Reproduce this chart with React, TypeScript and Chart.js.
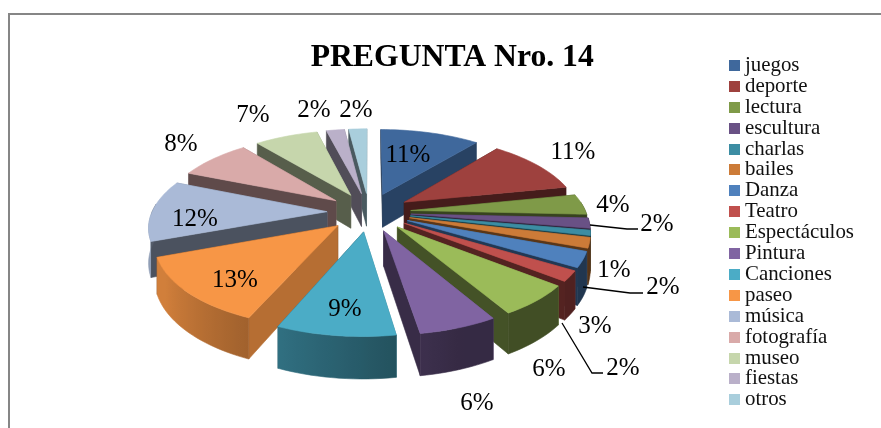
import React, { useEffect, useRef } from "react";
import { Chart, registerables } from "chart.js";

Chart.register(...registerables);

const categories = ["juegos","deporte","lectura","escultura","charlas","bailes","Danza","Teatro","Espectáculos","Pintura","Canciones","paseo","música","fotografía","museo","fiestas","otros"];
const percentages = [11,11,4,2,1,2,3,2,6,6,9,13,12,8,7,2,2];
const sliceColors = ["#3F689C","#9E413E","#7F9A48","#695185","#3C8DA3","#CC7B38","#4F81BD","#C0504D","#9BBB59","#8064A2","#4BACC6","#F79646","#AABAD7","#D9AAA9","#C6D6AC","#BAB0C9","#A9CEDC"];
const labelPlaces: [number, number][] = [[408,155],[573,152],[613,205],[657,224],[614,270],[663,287],[595,326],[623,368],[549,369],[477,403],[345,309],[235,280],[195,219],[181,144],[253,115],[314,110],[356,110]];
const leaderPaths: [number, number][][] = [
  [[590,225],[627,229],[638,229]],
  [[583,287],[630,293],[643,293]],
  [[562,323],[592,373],[603,373]],
];

const FONT = '"Liberation Serif", "Times New Roman", serif';
const ORIGIN_X = 369, ORIGIN_Y = 212;
const SQUASH = 0.46, PERSPECTIVE = 0.00092, DEPTH = 34;
const RADIUS = 175, EXPLODE = 42;

function project(X: number, Y: number, h = 0): [number, number] {
  const k = 1 / (1 - PERSPECTIVE * Y);
  return [ORIGIN_X + X * k, ORIGIN_Y + SQUASH * Y * k + h * k];
}
function shade(hex: string, f: number) {
  const n = parseInt(hex.slice(1), 16);
  return `rgb(${((n >> 16) & 255) * f | 0},${((n >> 8) & 255) * f | 0},${(n & 255) * f | 0})`;
}
function deg(a: number) { // clockwise degrees from north
  return (((a + Math.PI / 2) * 180) / Math.PI + 720) % 360;
}
function poly(ctx: CanvasRenderingContext2D, pts: [number, number][], color: any) {
  ctx.beginPath();
  pts.forEach((p, i) => (i ? ctx.lineTo(p[0], p[1]) : ctx.moveTo(p[0], p[1])));
  ctx.closePath();
  ctx.fillStyle = color;
  ctx.strokeStyle = color;
  ctx.lineWidth = 0.6;
  ctx.fill();
  ctx.stroke();
}
function radialShade(n: number) {
  const m = ((n % 360) + 360) % 360;
  if (m >= 160) return 0.44;
  return Math.min(0.74, 0.44 + ((160 - m) / 47) * 0.3);
}
function outerShade(n: number) {
  const m = ((n % 360) + 360) % 360;
  if (m <= 160) return 0.42;
  if (m > 250) return 0.5;
  return Math.min(0.85, 0.42 + ((m - 160) / 80) * 0.43);
}
function swatch(color: string) {
  const c = document.createElement("canvas");
  c.width = 11;
  c.height = 11;
  const g = c.getContext("2d")!;
  g.fillStyle = color;
  g.fillRect(0, 0, 11, 11);
  return c;
}

const tiltedPie = {
  id: "tiltedPie",
  beforeDraw(chart: any) {
    const { ctx, width, height } = chart;
    // the swatches sit just left of the legend box, so it must not clip them
    chart.legend.draw = function () {
      this._draw();
    };
    ctx.save();
    ctx.fillStyle = "#868686";
    ctx.fillRect(8, 13, width - 8, 2);
    ctx.fillRect(8, 13, 2, height - 13);
    ctx.restore();
  },
  beforeDatasetDraw(chart: any) {
    const { ctx } = chart;
    const arcs = chart.getDatasetMeta(0).data.map((arc: any, index: number) => {
      const mid = (arc.startAngle + arc.endAngle) / 2;
      const e = (arc.options.offset || 0) / 4;
      return { arc, index, mid, ax: Math.cos(mid) * e, ay: Math.sin(mid) * e };
    });
    arcs.sort((a: any, b: any) => a.ay + Math.sin(a.mid) * 60 - (b.ay + Math.sin(b.mid) * 60));
    ctx.save();
    for (const s of arcs) {
      const { arc, ax, ay } = s;
      const color = arc.options.backgroundColor;
      const r = arc.outerRadius;
      const steps = Math.max(4, Math.ceil((arc.endAngle - arc.startAngle) * 30));
      const rim: [number, number][] = [];
      const angles: number[] = [];
      for (let i = 0; i <= steps; i++) {
        const a = arc.startAngle + ((arc.endAngle - arc.startAngle) * i) / steps;
        angles.push(a);
        rim.push([ax + Math.cos(a) * r, ay + Math.sin(a) * r]);
      }
      const wall = (p: [number, number], q: [number, number]): [number, number][] => [
        project(p[0], p[1]), project(q[0], q[1]), project(q[0], q[1], DEPTH), project(p[0], p[1], DEPTH),
      ];
      const apex: [number, number] = [ax, ay];
      const walls = [
        { y: rim[0][1], pts: wall(apex, rim[0]), f: radialShade(deg(arc.startAngle) - 90) },
        { y: rim[steps][1], pts: wall(apex, rim[steps]), f: radialShade(deg(arc.endAngle) + 90) },
      ].sort((a, b) => a.y - b.y);
      walls.forEach((w) => poly(ctx, w.pts, shade(color, w.f)));
      // curved outer wall: one polygon with a horizontal gradient
      const vis = angles.map((a, i) => ({ a, p: rim[i] })).filter((v) => Math.sin(v.a) > -0.12);
      if (vis.length > 1) {
        const top = vis.map((v) => project(v.p[0], v.p[1]));
        const bottom = vis.map((v) => project(v.p[0], v.p[1], DEPTH)).reverse();
        const x0 = top[0][0], x1 = top[top.length - 1][0];
        const grad = ctx.createLinearGradient(x0, 0, x1 === x0 ? x0 + 1 : x1, 0);
        vis.forEach((v, i) => {
          const t = (top[i][0] - x0) / (x1 - x0 || 1);
          grad.addColorStop(Math.min(1, Math.max(0, t)), shade(color, outerShade(deg(v.a))));
        });
        poly(ctx, [...top, ...bottom], grad);
      }
      poly(ctx, [project(ax, ay), ...rim.map((p) => project(p[0], p[1]))], color);
    }
    // leader lines
    ctx.strokeStyle = "#000";
    ctx.lineWidth = 1.3;
    for (const path of leaderPaths) {
      ctx.beginPath();
      path.forEach((p, i) => (i ? ctx.lineTo(p[0], p[1]) : ctx.moveTo(p[0], p[1])));
      ctx.stroke();
    }
    // percentage labels
    ctx.fillStyle = "#000";
    ctx.font = `25px ${FONT}`;
    ctx.textAlign = "center";
    ctx.textBaseline = "middle";
    percentages.forEach((v, i) => ctx.fillText(`${v}%`, labelPlaces[i][0], labelPlaces[i][1]));
    ctx.restore();
    return false;
  },
};

export default function App() {
  const ref = useRef<HTMLCanvasElement>(null);
  useEffect(() => {
    document.body.style.margin = "0";
    const chart = new Chart(ref.current!, {
      type: "pie",
      data: {
        labels: categories,
        datasets: [{ data: percentages, backgroundColor: sliceColors, borderWidth: 0, offset: EXPLODE * 4 }],
      },
      options: {
        animation: false,
        responsive: false,
        radius: RADIUS,
        layout: { padding: { left: 170, top: 24, right: 17, bottom: 4 } },
        plugins: {
          tooltip: { enabled: false },
          title: {
            display: true,
            text: "PREGUNTA Nro. 14",
            color: "#000",
            fullSize: false,
            font: { family: FONT, size: 31.7, weight: "bold" },
            padding: { top: 15, bottom: 0 },
          },
          legend: {
            position: "right",
            align: "start",
            title: { display: true, text: " ", font: { size: 1, lineHeight: 1 }, padding: { top: 30, bottom: 0 } },
            labels: {
              usePointStyle: true,
              boxWidth: 0.1,
              boxHeight: 11,
              padding: 0,
              color: "#111",
              font: { family: FONT, size: 20.9, lineHeight: 1 },
              generateLabels(chart: any) {
                return (Chart as any).overrides.pie.plugins.legend.labels
                  .generateLabels(chart)
                  .map((item: any, i: number) => ({ ...item, pointStyle: swatch(sliceColors[i]) }));
              },
            },
          },
        },
      },
      plugins: [tiltedPie],
    } as any);
    return () => chart.destroy();
  }, []);
  return <canvas ref={ref} width={881} height={428} style={{ display: "block" }} />;
}
